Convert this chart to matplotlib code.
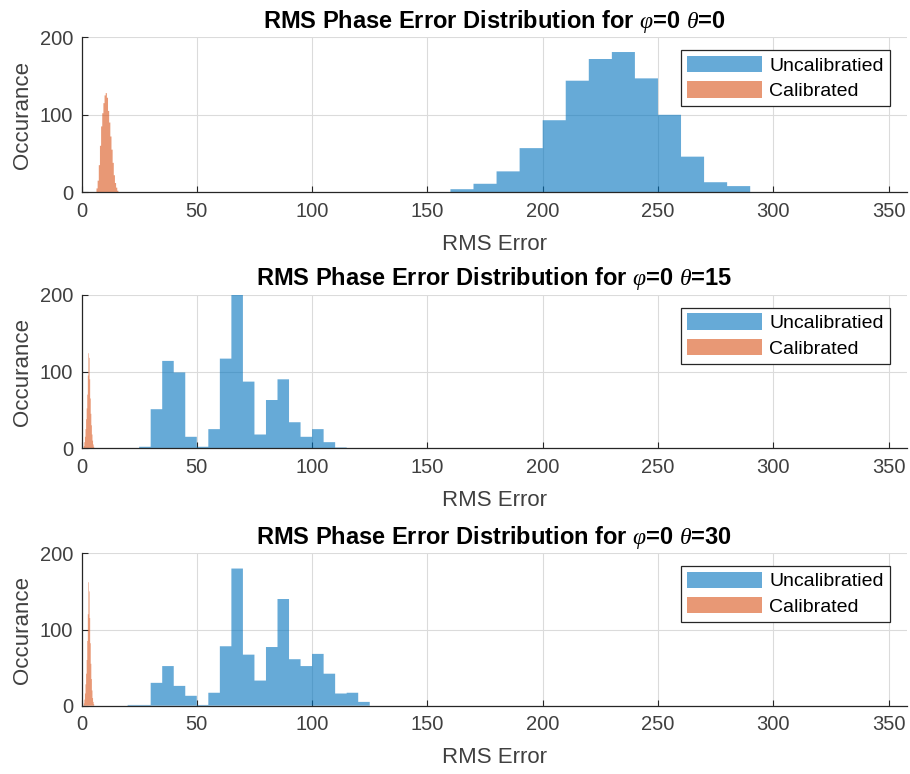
import numpy as np
import matplotlib
matplotlib.use("Agg")
import matplotlib.pyplot as plt

plt.rcParams['font.family'] = ['Liberation Sans', 'DejaVu Sans']
plt.rcParams['mathtext.fontset'] = 'custom'
plt.rcParams['mathtext.it'] = 'Liberation Serif:italic'
plt.rcParams['mathtext.rm'] = 'Liberation Sans'

titles = [r"RMS Phase Error Distribution for $\varphi$=0 $\theta$=0",
          r"RMS Phase Error Distribution for $\varphi$=0 $\theta$=15",
          r"RMS Phase Error Distribution for $\varphi$=0 $\theta$=30"]
x_label = "RMS Error"
y_label = "Occurance"
legend_labels = ["Uncalibratied", "Calibrated"]
x_ticks = [0, 50, 100, 150, 200, 250, 300, 350]
y_ticks = [0, 100, 200]

# Uncalibrated histograms (bin start, bin width, counts)
unc1_start, unc1_width = 160, 10
unc1_counts = [4, 11, 27, 57, 93, 144, 172, 181, 147, 100, 46, 13, 8]

unc2_start, unc2_width = 25, 5
unc2_counts = [2, 51, 114, 99, 15, 2, 25, 117, 200, 87, 18, 63, 90, 34, 15, 25, 8, 1]

unc3_start, unc3_width = 20, 5
unc3_counts = [1, 1, 30, 52, 26, 13, 1, 17, 78, 180, 67, 33, 77, 140, 61, 52, 68, 42, 16, 17, 5]

# Calibrated histograms
cal1_start, cal1_width = 6.5, 0.5
cal1_counts = [5, 15, 35, 60, 85, 102, 115, 125, 128, 122, 105, 90, 72, 55, 38, 22, 12, 6, 2]

cal2_start, cal2_width = 1.0, 0.25
cal2_counts = [3, 8, 15, 25, 38, 52, 70, 95, 124, 118, 90, 65, 45, 30, 18, 10, 5, 2]

cal3_start, cal3_width = 1.0, 0.25
cal3_counts = [3, 8, 16, 28, 42, 60, 85, 120, 162, 150, 115, 82, 55, 35, 20, 10, 5, 2]

unc_sets = [(unc1_start, unc1_width, unc1_counts),
            (unc2_start, unc2_width, unc2_counts),
            (unc3_start, unc3_width, unc3_counts)]
cal_sets = [(cal1_start, cal1_width, cal1_counts),
            (cal2_start, cal2_width, cal2_counts),
            (cal3_start, cal3_width, cal3_counts)]

blue = (0.0, 0.447, 0.741)
orange = (0.85, 0.325, 0.098)
axcol = (0.15, 0.15, 0.15)
txtcol = (0.25, 0.25, 0.25)

W, H = 910, 774
fig = plt.figure(figsize=(W / 100, H / 100), dpi=100)

ax_pix = [(37.3, 192.3), (295.0, 448.3), (553.3, 705.7)]
left_px, right_px = 81.5, 907.0

for i in range(3):
    top, bot = ax_pix[i]
    ax = fig.add_axes([left_px / W, 1 - bot / H, (right_px - left_px) / W, (bot - top) / H])
    s, w, c = unc_sets[i]
    edges = s + w * np.arange(len(c) + 1)
    ax.stairs(c, edges, fill=True, color=blue, alpha=0.6, linewidth=0,
              label=legend_labels[0], zorder=2, snap=False)
    s, w, c = cal_sets[i]
    edges = s + w * np.arange(len(c) + 1)
    ax.stairs(c, edges, fill=True, color=orange, alpha=0.6, linewidth=0,
              label=legend_labels[1], zorder=2, snap=False)
    ax.set_xlim(0, 358)
    ax.set_ylim(0, 200)
    ax.set_xticks(x_ticks)
    ax.set_yticks(y_ticks)
    ax.grid(True, color=(0.86, 0.86, 0.86), linewidth=0.8, zorder=0)
    ax.set_axisbelow(True)
    for sp in ['top', 'right']:
        ax.spines[sp].set_visible(False)
    for sp in ['left', 'bottom']:
        ax.spines[sp].set_color(axcol)
        ax.spines[sp].set_linewidth(0.9)
        ax.spines[sp].set_zorder(5)
    ax.tick_params(direction='in', length=4, width=0.8, colors=axcol,
                   labelsize=14.5, labelcolor=txtcol)
    ax.tick_params(axis='x', pad=7)
    ax.tick_params(axis='y', pad=6)
    ax.set_xlabel(x_label, fontsize=16, color=txtcol, labelpad=9)
    ax.set_ylabel(y_label, fontsize=16, color=txtcol, labelpad=5)
    ax.set_title(titles[i], fontsize=17, fontweight='bold', pad=7)
    leg = ax.legend(loc='upper right', bbox_to_anchor=(0.979, 0.918), borderaxespad=0,
                    fontsize=14, handlelength=3.85, handleheight=0.9, fancybox=False,
                    framealpha=1, edgecolor=axcol, borderpad=0.3, labelspacing=0.35,
                    handletextpad=0.4)
    leg.get_frame().set_linewidth(0.9)

fig.savefig("out.png", dpi=100)
